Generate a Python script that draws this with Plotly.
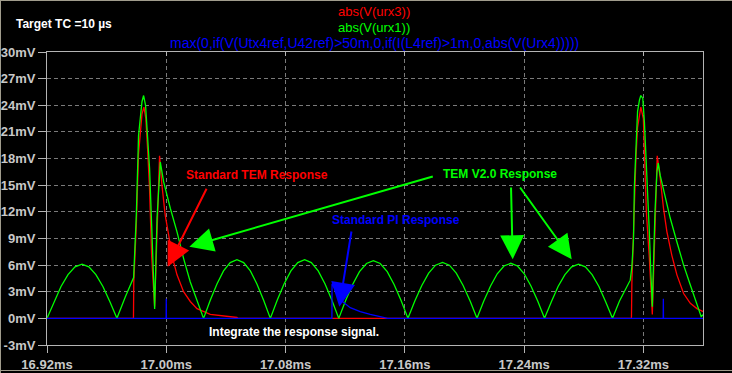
import plotly.graph_objects as go

# ---------------- data (time in ms, values in mV) ----------------
red_t = [16.9200, 16.9780, 16.9782, 16.9799, 16.9814, 16.9837, 16.9850, 16.9863, 16.9875,
         16.9888, 16.9902, 16.9915, 16.9922, 16.9935, 16.9950, 16.9955, 16.9971, 16.9993,
         17.0016, 17.0038, 17.0072, 17.0116, 17.0161, 17.0206, 17.0295, 17.0362, 17.0474,
         17.0480, 17.3120, 17.3123, 17.3134, 17.3140, 17.3150, 17.3161, 17.3174, 17.3183,
         17.3200, 17.3210, 17.3220, 17.3240, 17.3251, 17.3260, 17.3278, 17.3289, 17.3293,
         17.3313, 17.3335, 17.3358, 17.3391, 17.3425, 17.3470, 17.3515, 17.3559, 17.3604]
red_v = [0.0, 0.0, 4.0, 10.5, 18.5, 23.0, 23.8, 22.5, 19.0,
         14.5, 7.0, 2.5, 1.3, 8.0, 15.5, 18.3, 15.0, 11.6,
         9.4, 7.1, 4.9, 3.0, 1.9, 1.1, 0.45, 0.3, 0.1,
         0.0, 0.0, 4.0, 10.0, 14.0, 18.0, 21.5, 23.0, 23.8,
         22.5, 17.6, 12.0, 6.8, 3.4, 0.45, 10.1, 18.0, 18.3,
         15.8, 12.4, 9.75, 7.1, 4.9, 2.8, 1.7, 1.1, 0.75]

green_t = [16.9200, 16.9247, 16.9294, 16.9341, 16.9388, 16.9435, 16.9481, 16.9528, 16.9575, 16.9622, 16.9669,
           16.9725, 16.9781, 16.9799, 16.9814, 16.9837, 16.9848, 16.9861, 16.9875, 16.9888, 16.9902,
           16.9915, 16.9922, 16.9938, 16.9955, 16.9960, 16.9982, 17.0027, 17.0072, 17.0116, 17.0161, 17.0206,
           17.0250, 17.0295, 17.0340, 17.0384, 17.0429, 17.0474, 17.0519, 17.0564, 17.0608, 17.0653,
           17.0698, 17.0744, 17.0790, 17.0836, 17.0882, 17.0928, 17.0973, 17.1019, 17.1065, 17.1111,
           17.1157, 17.1203, 17.1250, 17.1296, 17.1343, 17.1389, 17.1435, 17.1482, 17.1528, 17.1575,
           17.1621, 17.1667, 17.1714, 17.1760, 17.1806, 17.1853, 17.1899, 17.1945, 17.1991, 17.2038,
           17.2084, 17.2129, 17.2175, 17.2220, 17.2265, 17.2311, 17.2356, 17.2401, 17.2446, 17.2492,
           17.2537, 17.2583, 17.2628, 17.2674, 17.2719, 17.2765, 17.2811, 17.2856, 17.2902, 17.2947,
           17.2993, 17.3040, 17.3085, 17.3112, 17.3123, 17.3134, 17.3140, 17.3150, 17.3161, 17.3174,
           17.3183, 17.3196, 17.3207, 17.3218, 17.3230, 17.3240, 17.3250, 17.3260, 17.3267, 17.3278,
           17.3291, 17.3300, 17.3313, 17.3347, 17.3380, 17.3425, 17.3470, 17.3515, 17.3559, 17.3588, 17.3604]
green_v = [0.0, 1.88, 3.59, 4.93, 5.80, 6.10, 5.80, 4.93, 3.59, 1.88, 0.0,
           2.4, 4.6, 11.6, 20.6, 24.4, 25.1, 24.0, 20.6, 16.9, 10.5,
           3.75, 1.05, 11.3, 17.3, 17.6, 15.4, 12.4, 9.75, 6.76, 4.1, 1.9,
           0.0, 2.04, 3.88, 5.34, 6.28, 6.60, 6.28, 5.34, 3.88, 2.04,
           0.0, 2.04, 3.88, 5.34, 6.28, 6.60, 6.28, 5.34, 3.88, 2.04,
           0.0, 2.01, 3.82, 5.26, 6.18, 6.50, 6.18, 5.26, 3.82, 2.01,
           0.0, 1.95, 3.70, 5.10, 5.99, 6.30, 5.99, 5.10, 3.70, 1.95,
           0.0, 1.92, 3.65, 5.02, 5.90, 6.20, 5.90, 5.02, 3.65, 1.92,
           0.0, 1.88, 3.59, 4.93, 5.80, 6.10, 5.80, 4.93, 3.59, 1.88,
           0.0, 1.95, 3.5, 4.3, 5.8, 9.0, 15.0, 19.1, 23.3, 24.6,
           25.1, 24.8, 22.1, 18.0, 13.9, 9.75, 5.25, 1.3, 5.6, 12.0,
           16.5, 17.5, 16.1, 13.5, 11.3, 8.6, 6.0, 3.75, 1.5, 0.2, 0.45]

blue_t = [16.9200, 16.9999, 17.0000, 17.0001, 17.1111, 17.1112, 17.1122, 17.1167, 17.1234,
          17.1301, 17.1368, 17.1435, 17.1482, 17.1485, 17.3333, 17.3334, 17.3335, 17.3600]
blue_v = [0.0, 0.0, 2.2, 0.0, 0.0, 3.9, 3.6, 2.1, 1.2,
          0.75, 0.45, 0.2, 0.05, 0.0, 0.0, 2.2, 0.0, 0.0]

x_ticks = [16.92, 17.00, 17.08, 17.16, 17.24, 17.32]
x_ticktext = ["16.92ms", "17.00ms", "17.08ms", "17.16ms", "17.24ms", "17.32ms"]
y_ticks = [30, 27, 24, 21, 18, 15, 12, 9, 6, 3, 0, -3]
y_ticktext = ["30mV", "27mV", "24mV", "21mV", "18mV", "15mV", "12mV", "9mV", "6mV", "3mV", "0mV", "-3mV"]

trace_names = ["abs(V(urx3))", "abs(V(urx1))",
               "max(0,if(V(Utx4ref,U42ref)>50m,0,if(I(L4ref)>1m,0,abs(V(Urx4)))))"]
trace_colors = ["#ff0000", "#00ff00", "#0000ff"]

# ---------------- layout geometry ----------------
W, H = 732, 373
ML, MR, MT, MB = 47, 29, 52, 28
XR = [16.92, 17.36]
YR = [-3, 30]
PW, PH = W - ML - MR, H - MT - MB


def px2x(px):
    return XR[0] + (px - ML) / PW * (XR[1] - XR[0])


def py2y(py):
    return YR[1] - (py - MT) / PH * (YR[1] - YR[0])


def ppx(px):
    return (px - ML) / PW


def ppy(py):
    return (H - MB - py) / PH


fig = go.Figure()
for t, v, c in zip([red_t, green_t, blue_t], [red_v, green_v, blue_v], trace_colors):
    fig.add_trace(go.Scatter(x=t, y=v, mode="lines", line=dict(color=c, width=1.3),
                             showlegend=False, hoverinfo="skip", cliponaxis=True))
# dummy trace to show top inward ticks
fig.add_trace(go.Scatter(x=XR, y=[None, None], xaxis="x2", mode="lines",
                         showlegend=False, hoverinfo="skip"))

tick_font = dict(family="Liberation Sans, Arial, sans-serif", size=13, color="#c8c8c8", weight="bold")
frame_col = "#b4b4b4"
grid_col = "#7a7a7a"

fig.update_layout(
    width=W, height=H, autosize=False,
    margin=dict(l=ML, r=MR, t=MT, b=MB, pad=0, autoexpand=False),
    paper_bgcolor="#000000", plot_bgcolor="#000000",
    xaxis=dict(range=XR, tickvals=x_ticks, ticktext=x_ticktext, ticks="outside", ticklen=7,
               tickcolor=frame_col, tickwidth=1, tickfont=tick_font, showgrid=True,
               gridcolor=grid_col, griddash="4px,3px", gridwidth=1, zeroline=False,
               showline=True, linecolor=frame_col, linewidth=1, mirror=True, fixedrange=True,
               automargin=False),
    xaxis2=dict(range=XR, overlaying="x", side="top", tickvals=x_ticks, ticks="inside",
                ticklen=4, tickcolor=frame_col, showticklabels=False, showgrid=False,
                zeroline=False, showline=False, automargin=False),
    yaxis=dict(range=YR, tickvals=y_ticks, ticktext=y_ticktext, ticks="outside", ticklen=8,
               tickcolor=frame_col, tickwidth=1, tickfont=tick_font, showgrid=True,
               gridcolor=grid_col, griddash="4px,3px", gridwidth=1, zeroline=False,
               showline=True, linecolor=frame_col, linewidth=1, mirror=True, fixedrange=True,
               automargin=False),
)

font_reg = "Liberation Sans, Arial, sans-serif"
annots = []
# trace titles above the plot
title_py = [11.5, 27, 43.5]
title_size = [13, 13, 14]
for i, (name, col) in enumerate(zip(trace_names, trace_colors)):
    annots.append(dict(text=name, xref="paper", yref="paper", x=ppx(374), y=ppy(title_py[i]),
                       xanchor="center", yanchor="middle", showarrow=False,
                       font=dict(family=font_reg, size=title_size[i], color=col)))
annots.append(dict(text="Target TC =10 µs", xref="paper", yref="paper", x=ppx(14), y=ppy(24),
                   xanchor="left", yanchor="middle", showarrow=False,
                   font=dict(family=font_reg, size=12, color="#ffffff", weight="bold")))

labels = [("Standard TEM Response", 257, 175, "#ff0000"),
          ("TEM V2.0 Response", 500, 174, "#00ff00"),
          ("Standard PI Response", 396, 220, "#0000ff"),
          ("Integrate the response signal.", 294, 332, "#ffffff")]
for txt, px, py, col in labels:
    annots.append(dict(text=txt, xref="x", yref="y", x=px2x(px), y=py2y(py), xanchor="center",
                       yanchor="middle", showarrow=False,
                       font=dict(family=font_reg, size=12, color=col, weight="bold")))

arrows = [((167.7, 266.7), (207.3, 187.3), "#ff0000"),
          ((189.3, 246.7), (434.3, 176.0), "#00ff00"),
          ((512.7, 259.3), (511.0, 186.0), "#00ff00"),
          ((571.7, 259.3), (519.0, 186.0), "#00ff00"),
          ((339.3, 306.7), (351.7, 230.0), "#0000ff")]
for (hx, hy), (tx, ty), col in arrows:
    annots.append(dict(text="", xref="x", yref="y", x=px2x(hx), y=py2y(hy), ax=tx - hx, ay=ty - hy,
                       showarrow=True, arrowhead=2, arrowsize=2.4, arrowwidth=2, arrowcolor=col,
                       standoff=0))
fig.update_layout(annotations=annots)

# window frame (thin grey border)
border_col = "#a09c8c"
fig.update_layout(shapes=[
    dict(type="line", xref="paper", yref="paper", x0=ppx(0.5), x1=ppx(0.5), y0=ppy(0), y1=ppy(373),
         line=dict(color=border_col, width=1)),
    dict(type="line", xref="paper", yref="paper", x0=ppx(0), x1=ppx(732), y0=ppy(0.5), y1=ppy(0.5),
         line=dict(color=border_col, width=1)),
    dict(type="line", xref="paper", yref="paper", x0=ppx(0), x1=ppx(732), y0=ppy(370.5), y1=ppy(370.5),
         line=dict(color=border_col, width=1)),
])

fig.write_html("out.html", config={"displayModeBar": False},
               post_script="document.body.style.margin='0';document.body.style.overflow='hidden';")
